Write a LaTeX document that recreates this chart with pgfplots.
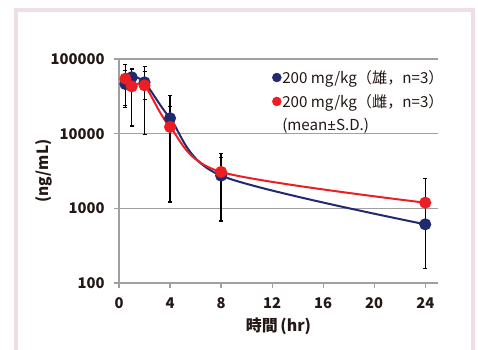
\documentclass[border=0pt]{standalone}
\usepackage{pgfplots}
\pgfplotsset{compat=1.18}
\usepackage{fontspec}
\setmainfont{Noto Sans CJK JP}
\newfontfamily\pmfont{Noto Sans}
\definecolor{navy}{RGB}{32,42,110}
\definecolor{rred}{RGB}{236,30,36}
\definecolor{gridgray}{RGB}{160,160,160}
\definecolor{txt}{RGB}{35,24,21}
\definecolor{framepink}{RGB}{240,221,234}
\begin{document}
\begin{tikzpicture}[x=1bp,y=1bp]
\path[use as bounding box, fill=white] (0,0) rectangle (478,349);
\draw[framepink, line width=4bp] (16,-5) -- (16,339) -- (473,339) -- (473,-5);
\begin{axis}[
  at={(119bp,66bp)}, anchor=south west,
  scale only axis, width=319bp, height=224bp,
  ymode=log, ymin=100, ymax=100000,
  xmin=0, xmax=25,
  xtick={0,4,8,12,16,20,24},
  ytick={100,1000,10000,100000},
  yminorticks=false,
  log ticks with fixed point,
  /pgf/number format/1000 sep={},
  /pgf/number format/assume math mode=true,
  axis x line*=bottom, axis y line*=left,
  axis line style={gridgray, line width=1.5bp},
  ymajorgrids, grid style={gridgray, line width=1.2bp},
  tick align=outside, major tick length=5bp,
  tick style={gridgray, line width=1.2bp},
  ticklabel style={font=\fontsize{14.8}{16}\selectfont\bfseries, text=txt},
  yticklabel style={xshift=-6bp},
  xticklabel style={yshift=-6bp},
  xlabel={時間\,(hr)},
  xlabel style={at={(axis description cs:0.5,-0.192)}, anchor=center, font=\fontsize{16}{18}\selectfont\bfseries, text=txt},
  ylabel={(ng/mL)},
  ylabel style={at={(axis description cs:-0.237,0.5)}, anchor=center, font=\fontsize{15.5}{17}\selectfont\bfseries, text=txt},
  legend style={at={(0.48,0.955)}, anchor=north west, draw=none, fill=none,
    font=\fontsize{15.2}{17}\selectfont, text=txt, row sep=7.5bp, inner sep=0pt,
    nodes={inner sep=1bp}},
  legend cell align=left,
  legend image code/.code={\draw[#1] plot coordinates {(0bp,0bp)};},
]
\addlegendimage{only marks, mark=*, navy, mark size=4.5bp}
\addlegendentry{200 mg/kg（雄，n=3）}
\addlegendimage{only marks, mark=*, rred, mark size=4.5bp}
\addlegendentry{200 mg/kg（雌，n=3）}
\addlegendimage{empty legend}
\addlegendentry{(mean{\pmfont ±}S.D.)}

\addplot[forget plot, navy, line width=2bp, smooth, mark=*, mark size=5bp] coordinates {
(0.5,46200) (1,56900) (2,48700) (4,16100) (8,2740) (24,611)};
\addplot[forget plot, rred, line width=2bp, smooth, mark=*, mark size=5bp] coordinates {
(0.5,54500) (1,43000) (2,44400) (4,12300) (8,3070) (24,1190)};

\addplot[forget plot, draw=none, mark=none,
  error bars/.cd, y dir=both, y explicit,
  error bar style={draw=black, line width=1.2bp},
  error mark options={draw=black, rotate=90, mark size=2bp, line width=1.2bp}]
coordinates {
(0.5,46200) +- (0,23700)
(1,56900) +- (0,15800)
(2,48700) +- (0,20000)
(8,2740) +- (0,2064)
(24,611) +- (0,453)
(0.5,54500) +- (0,30400)
(1,43000) +- (0,30300)
(2,44400) +- (0,34600)
(4,12300) +- (0,11085)
(8,3070) +- (0,2390)
};
\addplot[forget plot, draw=none, mark=none,
  error bars/.cd, y dir=plus, y explicit,
  error bar style={draw=black, line width=1.2bp},
  error mark options={draw=black, rotate=90, mark size=2bp, line width=1.2bp}]
coordinates {
(4,16100) +- (0,16200)
(24,1190) +- (0,1330)
};
\end{axis}
\end{tikzpicture}
\end{document}
